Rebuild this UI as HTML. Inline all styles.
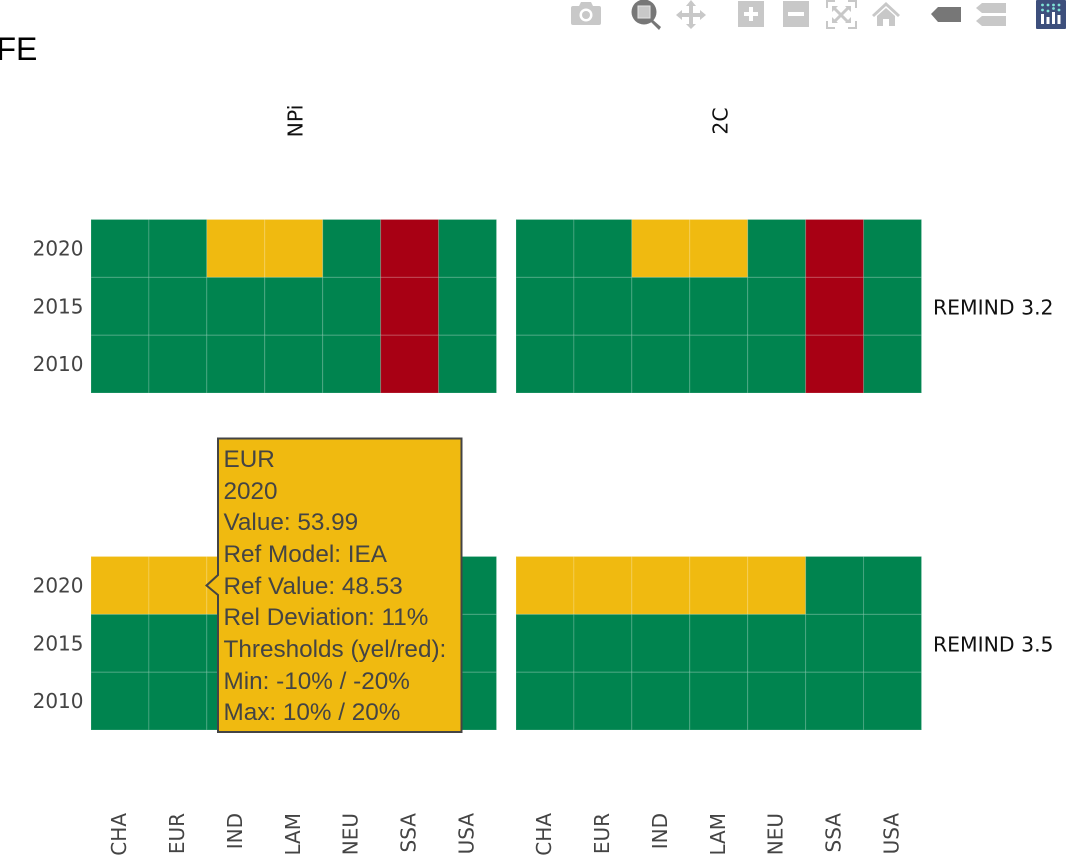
<!DOCTYPE html>
<html lang="en">
<head>
<meta charset="utf-8">
<title>FE</title>
<style>
html,body{margin:0;padding:0;background:#fff;width:1066px;height:855px;overflow:hidden}
#chart{position:absolute;left:0;top:0;display:block}
text{white-space:pre}
.tick{font-family:"DejaVu Sans","Liberation Sans",sans-serif;font-size:20px;fill:#444}
.strip{font-family:"DejaVu Sans","Liberation Sans",sans-serif;font-size:20.4px;fill:#111}
.tip{font-family:"Liberation Sans",Arial,sans-serif;font-size:24.3px;fill:#444}
</style>
</head>
<body>
<svg id="chart" width="1066" height="855" viewBox="0 0 1066 855" xmlns="http://www.w3.org/2000/svg">
  <text x="-3.5" y="60" font-family="'Liberation Sans',Arial,sans-serif" font-size="32" fill="#000">FE</text>
  <g id="cells"></g>
  <g id="labels"></g>

  <g>
    <g fill="#c8c8c8">
      <path d="M573 6h6l2-4h10l2 4h6q2 0 2 2v15q0 2-2 2h-26q-2 0-2-2V8q0-2 2-2z"/>
      <circle cx="586" cy="15" r="6.5" fill="#fff"/><circle cx="586" cy="15" r="4"/>
    </g>
    <g>
      <path d="M653 20l8 7-2 3-8-8z" fill="#777"/>
      <circle cx="644" cy="12" r="12.5" fill="#777"/>
      <rect x="638" y="6" width="12" height="12" fill="#c8c8c8" stroke="#e4e4e4" stroke-width="1"/>
    </g>
    <g fill="#c8c8c8">
      <path d="M691 0l5 6h-3v7h7v-3l6 5-6 5v-3h-7v7h3l-5 5-5-5h3v-7h-7v3l-6-5 6-5v3h7V6h-3z"/>
    </g>
    <g>
      <rect x="738" y="1" width="26" height="26" fill="#c8c8c8"/>
      <path d="M749 7h4v5h5v4h-5v5h-4v-5h-5v-4h5z" fill="#fff"/>
    </g>
    <g>
      <rect x="783" y="1" width="26" height="26" fill="#c8c8c8"/>
      <rect x="788" y="12" width="16" height="4" fill="#fff"/>
    </g>
    <g fill="none" stroke="#c8c8c8">
      <path d="M827 8V1h8M848 1h8v7M856 21v7h-8M835 28h-8v-7" stroke-width="2"/>
      <path d="M834 8l14 14M848 8l-14 14" stroke-width="3"/>
      <path d="M832 6h6l-6 6zM851 6h-6l6 6zM851 23h-6l6-6zM832 23h6l-6-6z" fill="#c8c8c8" stroke="none"/>
    </g>
    <g fill="#c8c8c8">
      <path d="M886 2l14 13-2 2-12-11-12 11-2-2z"/>
      <path d="M877 16l9-8 9 8v10h-6v-7h-6v7h-6z"/>
    </g>
    <path d="M931 14l7-7h23v15h-23z" fill="#777"/>
    <g fill="#c8c8c8">
      <path d="M976 8l6-5h24v10h-24z"/>
      <path d="M976 21l6-5h24v10h-24z"/>
    </g>
    <g>
      <rect x="1036" y="0" width="30" height="29" rx="1" fill="#3d4f7c"/>
      <g fill="#fff">
        <rect x="1041" y="14" width="3" height="10"/><rect x="1046.500" y="17" width="3" height="7"/>
        <rect x="1052" y="12" width="3" height="12"/><rect x="1057.500" y="15" width="3" height="9"/>
      </g>
      <g fill="#7fe3d6">
        <circle cx="1042.500" cy="5" r="1.400"/><circle cx="1048" cy="5" r="1.400"/><circle cx="1053.500" cy="5" r="1.400"/><circle cx="1059" cy="5" r="1.400"/>
        <circle cx="1042.500" cy="10" r="1.400"/><circle cx="1048" cy="11" r="1.400"/><circle cx="1053.500" cy="8.500" r="1.400"/><circle cx="1059" cy="10" r="1.400"/>
      </g>
    </g>
  </g>

  <g>
    <path d="M218 438.500H461.500V732H218V595L206.500 585.500 218 575Z" fill="#f0ba10" stroke="#444" stroke-width="2"/>
    <text class="tip" x="223.500" y="467">EUR</text>
    <text class="tip" x="223.500" y="499">2020</text>
    <text class="tip" x="223.500" y="530">Value: 53.99</text>
    <text class="tip" x="223.500" y="562">Ref Model: IEA</text>
    <text class="tip" x="223.500" y="594">Ref Value: 48.53</text>
    <text class="tip" x="223.500" y="625">Rel Deviation: 11%</text>
    <text class="tip" x="223.500" y="657">Thresholds (yel/red):</text>
    <text class="tip" x="223.500" y="689">Min: -10% / -20%</text>
    <text class="tip" x="223.500" y="720">Max: 10% / 20%</text>
  </g>
</svg>
<script>
var regions = ['CHA', 'EUR', 'IND', 'LAM', 'NEU', 'SSA', 'USA'];
var years = [2020, 2015, 2010];
var scenarios = ['NPi', '2C'];
var models = ['REMIND 3.2', 'REMIND 3.5'];
// 0 = green (ok), 1 = yellow (warning), 2 = red (critical); rows follow years, columns follow regions
var remind32Npi = [[0,0,1,1,0,2,0],[0,0,0,0,0,2,0],[0,0,0,0,0,2,0]];
var remind32Twoc = [[0,0,1,1,0,2,0],[0,0,0,0,0,2,0],[0,0,0,0,0,2,0]];
var remind35Npi = [[1,1,1,1,1,0,0],[0,0,0,0,0,0,0],[0,0,0,0,0,0,0]];
var remind35Twoc = [[1,1,1,1,1,0,0],[0,0,0,0,0,0,0],[0,0,0,0,0,0,0]];
var statusColors = ['#00844f', '#f0ba10', '#a80014'];

var NS = 'http://www.w3.org/2000/svg';
var cellsLayer = document.getElementById('cells');
var labelsLayer = document.getElementById('labels');
var grid = [[remind32Npi, remind32Twoc], [remind35Npi, remind35Twoc]];

var panelLefts = [91, 516];
var panelTops = [219.5, 556.5];
var panelWidth = 405.500;
var panelHeight = 173.500;

function xScale(col, scenarioIdx) {
  return panelLefts[scenarioIdx] + col * panelWidth / regions.length;
}
function yScale(row, modelIdx) {
  return panelTops[modelIdx] + row * panelHeight / years.length;
}
function make(tag, attrs, parent) {
  var el = document.createElementNS(NS, tag);
  for (var k in attrs) el.setAttribute(k, attrs[k]);
  parent.appendChild(el);
  return el;
}

grid.forEach(function (modelRows, m) {
  modelRows.forEach(function (panel, s) {
    panel.forEach(function (rowVals, r) {
      rowVals.forEach(function (val, c) {
        var x0 = xScale(c, s), x1 = xScale(c + 1, s);
        var y0 = yScale(r, m), y1 = yScale(r + 1, m);
        var cell = make('rect', {x: x0, y: y0, width: x1 - x0, height: y1 - y0,
          fill: statusColors[val], stroke: 'rgba(255,255,255,0.17)', 'stroke-width': 1}, cellsLayer);
        
        
      });
    });
  });
});

models.forEach(function (model, m) {
  years.forEach(function (yr, r) {
    var t = make('text', {'class': 'tick', x: 83.5, y: (yScale(r, m) + yScale(r + 1, m)) / 2 + 7, 'text-anchor': 'end'}, labelsLayer);
    t.textContent = yr;
    
    
  });
  var strip = make('text', {'class': 'strip', x: 933, y: (yScale(0, m) + yScale(3, m)) / 2 + 8}, labelsLayer);
  strip.textContent = model;
  
  
});

scenarios.forEach(function (sc, s) {
  var cx = (xScale(0, s) + xScale(7, s)) / 2 + 8.5;
  var strip = make('text', {'class': 'strip', 'text-anchor': 'middle', transform: 'translate(' + cx + ',121) rotate(-90)'}, labelsLayer);
  strip.textContent = sc;
  
  
  regions.forEach(function (reg, c) {
    var cx2 = (xScale(c, s) + xScale(c + 1, s)) / 2 + 6;
    var t = make('text', {'class': 'tick', 'text-anchor': 'end', transform: 'translate(' + cx2 + ',813) rotate(-90)'}, labelsLayer);
    t.textContent = reg;
    
    
  });
});
</script>
</body>
</html>
